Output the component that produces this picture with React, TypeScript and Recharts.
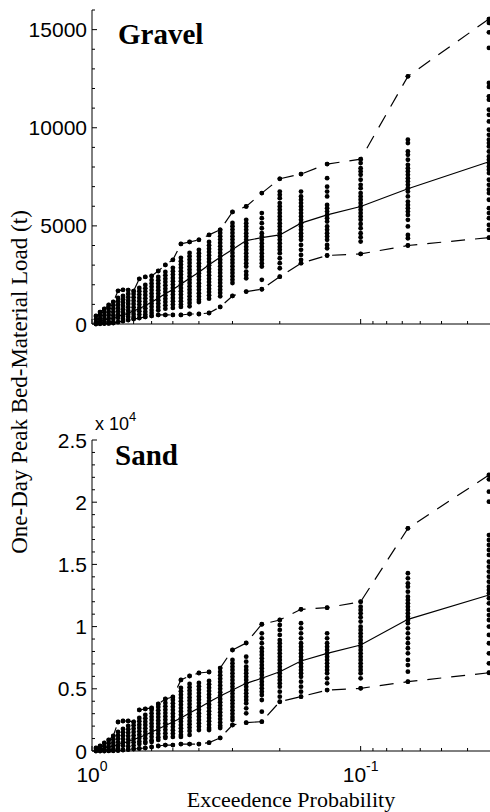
import React from "react";
import { ComposedChart, Scatter, Line, XAxis, YAxis } from "recharts";

// exceedence probability of each rank (m / (n + 1)), smallest first
const probs = [
  0.0333, 0.0667, 0.1, 0.1333, 0.1667, 0.2, 0.2333, 0.2667, 0.3, 0.3333,
  0.3667, 0.4, 0.4333, 0.4667, 0.5, 0.5333, 0.5667, 0.6, 0.6333, 0.6667,
  0.7, 0.7333, 0.7667, 0.8, 0.8333, 0.8667, 0.9, 0.9333, 0.9667,
];

// gravel: simulated one-day peak loads (t) per rank
const gravelCols: number[][] = [
  [15540, 15340, 14860, 14070, 12280, 12080, 11600, 11430, 10920, 10660, 10320, 9900, 9640, 9390, 9220, 9050, 8790, 8540, 8370, 8200, 8030, 7860, 7690, 7350, 7090, 6840, 6670, 6330, 5900, 5650, 5390, 5050, 4800, 4400],
  [12620, 9390, 9220, 8790, 8620, 8370, 8110, 7940, 7770, 7600, 7430, 7260, 7090, 6920, 6750, 6500, 6240, 6070, 5900, 5730, 5560, 5310, 4970, 4540, 4370, 4000],
  [8400, 8200, 7940, 7770, 7600, 7350, 7090, 6920, 6670, 6500, 6330, 6160, 5990, 5820, 5650, 5480, 5310, 5100, 4880, 4630, 4420, 4200, 3570],
  [8150, 7430, 7000, 6750, 6500, 6070, 5900, 5730, 5560, 5390, 5220, 4970, 4800, 4630, 4460, 4290, 4030, 3860, 3490],
  [7640, 6750, 6500, 6330, 6160, 5990, 5820, 5650, 5480, 5310, 5140, 4970, 4800, 4630, 4460, 4290, 4030, 3780, 3520, 3270, 3100],
  [7400, 6750, 6580, 6410, 6160, 5990, 5820, 5650, 5480, 5310, 5140, 4970, 4800, 4630, 4460, 4290, 4120, 3940, 3780, 3610, 3350, 3100, 2840, 2410],
  [6670, 5650, 5390, 5140, 4880, 4630, 4460, 4290, 4120, 3940, 3780, 3610, 3430, 3270, 3100, 2930, 2250, 1770],
  [5990, 5310, 5140, 4970, 4800, 4630, 4460, 4290, 4120, 3940, 3780, 3610, 3430, 3270, 3100, 2930, 2670, 2500, 2330, 1650],
  [5710, 5150, 4980, 4810, 4640, 4470, 4300, 4130, 3960, 3790, 3620, 3450, 3280, 3110, 2940, 2770, 2600, 2430, 2260, 2090, 1430],
  [4800, 4640, 4470, 4300, 4130, 3960, 3790, 3620, 3450, 3280, 3110, 2940, 2770, 2600, 2430, 2260, 2090, 1920, 1750, 1580, 1410, 870],
  [4540, 4180, 4010, 3840, 3670, 3500, 3330, 3160, 2990, 2820, 2650, 2480, 2310, 2140, 1970, 1800, 1630, 1460, 1290, 560],
  [4290, 3780, 3610, 3440, 3270, 3100, 2930, 2760, 2590, 2420, 2250, 2080, 1910, 1740, 1570, 1400, 1230, 1120, 510],
  [4180, 3620, 3450, 3280, 3110, 2940, 2770, 2600, 2430, 2260, 2090, 1920, 1750, 1580, 1410, 1240, 1070, 900, 510],
  [4080, 3370, 3200, 3030, 2860, 2690, 2520, 2350, 2180, 2010, 1840, 1670, 1500, 1330, 1160, 990, 870, 460],
  [3270, 2860, 2690, 2520, 2350, 2180, 2010, 1840, 1670, 1500, 1330, 1160, 990, 820, 460],
  [3010, 2650, 2480, 2310, 2140, 1970, 1800, 1630, 1460, 1290, 1120, 950, 780, 460],
  [2700, 2400, 2230, 2060, 1890, 1720, 1550, 1380, 1210, 1040, 870, 700, 460],
  [2450, 2240, 2070, 1900, 1730, 1560, 1390, 1220, 1050, 880, 710, 560, 410],
  [2400, 1990, 1820, 1650, 1480, 1310, 1140, 970, 800, 630, 480, 360],
  [2300, 1840, 1670, 1500, 1330, 1160, 990, 820, 650, 480, 300],
  [1680, 1530, 1360, 1190, 1020, 850, 680, 510, 360, 250],
  [1730, 1530, 1360, 1190, 1020, 850, 680, 510, 360, 200],
  [1740, 1430, 1260, 1090, 920, 750, 580, 410, 260, 150],
  [1690, 1330, 1160, 990, 820, 650, 480, 310, 100],
  [1120, 950, 780, 610, 440, 270, 100, 50],
  [970, 800, 630, 460, 290, 130, 30],
  [765, 600, 430, 260, 100, 20],
  [610, 440, 270, 110, 10],
  [410, 240, 80, 0],
];
const gravelMedian = [8265, 6890, 5985, 5560, 5140, 4540, 4400, 4250, 3800, 3400, 3020, 2640, 2330, 2030, 1760, 1540, 1320, 1110, 940, 780, 670, 545, 465, 385, 310, 255, 205, 150, 100];

// sand
const sandCols: number[][] = [
  [22190, 21840, 20850, 20040, 17360, 16960, 16560, 16160, 15760, 15220, 14820, 14420, 14010, 13610, 13210, 12950, 12680, 12280, 11870, 11340, 10930, 10530, 10000, 9330, 8660, 7850, 7050, 6290],
  [17900, 14290, 13880, 13480, 13210, 12810, 12400, 12140, 11870, 11600, 11340, 11070, 10800, 10530, 10270, 9860, 9460, 9060, 8660, 8260, 7850, 7320, 6910, 6380, 5570],
  [12000, 11600, 11340, 11070, 10750, 10400, 9990, 9730, 9460, 9190, 8920, 8660, 8390, 8120, 7850, 7580, 7320, 7050, 6780, 6510, 6250, 5840, 5040],
  [11520, 9460, 9060, 8660, 8390, 8120, 7850, 7580, 7320, 7050, 6780, 6510, 6250, 5840, 5440, 4900],
  [11390, 10270, 9860, 9460, 9060, 8660, 8390, 8120, 7850, 7580, 7320, 7050, 6780, 6510, 6250, 5970, 5570, 5170, 4770, 4370],
  [10530, 10130, 9730, 9330, 8920, 8660, 8390, 8120, 7850, 7580, 7320, 7050, 6780, 6510, 6250, 5970, 5710, 5440, 5170, 4770, 4370, 3960],
  [10190, 9460, 9060, 8660, 8260, 7980, 7720, 7450, 7180, 6910, 6650, 6380, 6110, 5840, 5570, 5310, 5040, 4770, 4500, 4100, 3160, 2360],
  [8680, 7580, 7180, 6780, 6510, 6250, 5970, 5710, 5440, 5170, 4900, 4640, 4370, 4100, 3840, 3430, 3030, 2280],
  [8120, 7320, 7050, 6780, 6510, 6240, 5970, 5700, 5430, 5160, 4890, 4620, 4350, 4080, 3810, 3540, 3270, 3000, 2730, 2490, 2090],
  [6670, 6350, 6080, 5810, 5540, 5270, 5000, 4730, 4460, 4190, 3920, 3650, 3380, 3110, 2840, 2570, 2300, 2030, 1850, 1050],
  [6350, 5630, 5360, 5090, 4820, 4550, 4280, 4010, 3740, 3470, 3200, 2930, 2660, 2390, 2120, 1850, 1690, 670],
  [6270, 5470, 5200, 4930, 4660, 4390, 4120, 3850, 3580, 3310, 3040, 2770, 2500, 2230, 1960, 1690, 560],
  [6030, 5390, 5120, 4850, 4580, 4310, 4040, 3770, 3500, 3230, 2960, 2690, 2420, 2150, 1880, 1610, 1290, 560],
  [5710, 5070, 4800, 4530, 4260, 3990, 3720, 3450, 3180, 2910, 2640, 2370, 2100, 1830, 1560, 1290, 1130, 560],
  [4340, 4100, 3830, 3560, 3290, 3020, 2750, 2480, 2210, 1940, 1670, 1400, 1130, 480],
  [4180, 3860, 3590, 3320, 3050, 2780, 2510, 2240, 1970, 1700, 1430, 1160, 1050, 480],
  [3780, 3540, 3270, 3000, 2730, 2460, 2190, 1920, 1650, 1380, 1110, 890, 400],
  [3460, 3300, 3030, 2760, 2490, 2220, 1950, 1680, 1410, 1140, 870, 720, 320],
  [3380, 2900, 2630, 2360, 2090, 1820, 1550, 1280, 1010, 740, 640, 240],
  [3300, 2660, 2390, 2120, 1850, 1580, 1310, 1040, 770, 560, 200],
  [2330, 2060, 1790, 1520, 1250, 980, 710, 440, 160],
  [2410, 2010, 1740, 1470, 1200, 930, 660, 390, 120],
  [2410, 1770, 1500, 1230, 960, 690, 420, 80],
  [2330, 1530, 1260, 990, 720, 450, 200, 40],
  [1210, 940, 670, 400, 150, 20],
  [890, 620, 350, 120, 10],
  [650, 380, 130, 0],
  [400, 150, 0],
  [240, 60, 0],
];
const sandMedian = [12540, 10585, 8520, 7850, 7235, 6375, 5845, 5440, 4900, 4420, 3940, 3455, 3055, 2650, 2330, 2050, 1770, 1525, 1285, 1085, 925, 765, 645, 520, 400, 320, 240, 160, 80];

const xTicks = [1, 0.9, 0.8, 0.7, 0.6, 0.5, 0.4, 0.3, 0.2, 0.1, 0.09, 0.08, 0.07, 0.06, 0.05, 0.04];
const gravelTicks = [0, 1000, 2000, 3000, 4000, 5000, 6000, 7000, 8000, 9000, 10000, 11000, 12000, 13000, 14000, 15000, 16000];
const sandTicks = [0, 1000, 2000, 3000, 4000, 5000, 6000, 7000, 8000, 9000, 10000, 11000, 12000, 13000, 14000, 15000, 16000, 17000, 18000, 19000, 20000, 21000, 22000, 23000, 24000, 25000];

const SANS = "'Liberation Sans', Arial, Helvetica, sans-serif";
const SERIF = "'Liberation Serif', 'Times New Roman', Times, serif";

const toPoints = (cols: number[][]) =>
  cols.flatMap((col, i) => col.map((v) => ({ p: probs[i], v })));
const upper = (cols: number[][]) => cols.map((col, i) => ({ p: probs[i], v: Math.max(...col) }));
const lower = (cols: number[][]) => cols.map((col, i) => ({ p: probs[i], v: Math.min(...col) }));
const line = (vals: number[]) => vals.map((v, i) => ({ p: probs[i], v }));

const dotShape = (props: any) => <circle cx={props.cx} cy={props.cy} r={2.4} fill="#000" />;

function XTick(props: any) {
  const { x, y, payload, showLabels } = props;
  const v = payload.value;
  const major = v === 1 || v === 0.1;
  return (
    <g>
      <line x1={x} x2={x} y1={y} y2={y - (major ? 5 : 3)} stroke="#000" strokeWidth={1} />
      {showLabels && major && (
        <text x={x} y={y + 31} textAnchor="middle" fontFamily={SANS} fontSize={21} fill="#000">
          10
          <tspan dy={-11} fontSize={14}>
            {v === 1 ? "0" : "-1"}
          </tspan>
        </text>
      )}
    </g>
  );
}

function YTick(props: any) {
  const { x, y, payload, fmt } = props;
  const v = payload.value;
  const major = v % 5000 === 0;
  return (
    <g>
      <line x1={x} x2={x + (major ? 5 : 3)} y1={y} y2={y} stroke="#000" strokeWidth={1} />
      {major && (
        <text x={x - 5} y={y + 7.5} textAnchor="end" fontFamily={SANS} fontSize={21} fill="#000">
          {fmt(v)}
        </text>
      )}
    </g>
  );
}

type PanelProps = {
  cols: number[][];
  median: number[];
  yMax: number;
  yTicks: number[];
  fmt: (v: number) => string;
  showXLabels: boolean;
  height: number;
  margin: { top: number; right: number; bottom: number; left: number };
};

function Panel({ cols, median, yMax, yTicks, fmt, showXLabels, height, margin }: PanelProps) {
  return (
    <ComposedChart width={490} height={height} margin={margin}>
      <XAxis
        dataKey="p"
        type="number"
        scale="log"
        domain={[0.033, 1]}
        reversed
        ticks={xTicks}
        interval={0}
        height={1}
        tickSize={0}
        tickMargin={0}
        axisLine={{ stroke: "#000", strokeWidth: 1 }}
        tick={(p: any) => <XTick {...p} showLabels={showXLabels} />}
      />
      <YAxis
        dataKey="v"
        type="number"
        domain={[0, yMax]}
        ticks={yTicks}
        interval={0}
        width={1}
        tickSize={0}
        tickMargin={0}
        axisLine={{ stroke: "#000", strokeWidth: 1 }}
        tick={(p: any) => <YTick {...p} fmt={fmt} />}
      />
      <Scatter data={toPoints(cols)} dataKey="v" shape={dotShape} isAnimationActive={false} />
      <Line
        data={upper(cols)}
        dataKey="v"
        type="linear"
        stroke="#000"
        strokeWidth={1.2}
        strokeDasharray="14 10"
        dot={{ r: 2.2, fill: "#000", stroke: "none" }}
        isAnimationActive={false}
      />
      <Line
        data={lower(cols)}
        dataKey="v"
        type="linear"
        stroke="#000"
        strokeWidth={1.2}
        strokeDasharray="14 10"
        dot={{ r: 2.2, fill: "#000", stroke: "none" }}
        isAnimationActive={false}
      />
      <Line
        data={line(median)}
        dataKey="v"
        type="linear"
        stroke="#000"
        strokeWidth={1.2}
        dot={false}
        isAnimationActive={false}
      />
    </ComposedChart>
  );
}

export default function App() {
  return (
    <div
      style={{
        position: "absolute",
        left: 0,
        top: 0,
        width: 490,
        height: 812,
        overflow: "hidden",
        background: "#fff",
      }}
    >
      <div style={{ position: "absolute", left: 0, top: 0 }}>
        <Panel
          cols={gravelCols}
          median={gravelMedian}
          yMax={16000}
          yTicks={gravelTicks}
          fmt={(v) => String(v)}
          showXLabels={false}
          height={340}
          margin={{ top: 10, right: 0, bottom: 15, left: 91 }}
        />
      </div>
      <div style={{ position: "absolute", left: 0, top: 400 }}>
        <Panel
          cols={sandCols}
          median={sandMedian}
          yMax={25000}
          yTicks={sandTicks}
          fmt={(v) => String(v / 10000)}
          showXLabels={true}
          height={412}
          margin={{ top: 40, right: 0, bottom: 60, left: 91 }}
        />
      </div>
      <svg
        width={490}
        height={812}
        style={{ position: "absolute", left: 0, top: 0, pointerEvents: "none" }}
      >
        <text x={118} y={44} fontFamily={SERIF} fontWeight="bold" fontSize={29} fill="#000">
          Gravel
        </text>
        <text x={115} y={465} fontFamily={SERIF} fontWeight="bold" fontSize={29} fill="#000">
          Sand
        </text>
        <text x={95} y={430} fontFamily={SANS} fontSize={18} fill="#000">
          x 10
          <tspan dy={-9} fontSize={13}>
            4
          </tspan>
        </text>
        <text
          x={0}
          y={0}
          transform="translate(27 382) rotate(-90)"
          textAnchor="middle"
          fontFamily={SERIF}
          fontSize={23}
          fill="#000"
        >
          One-Day Peak Bed-Material Load (t)
        </text>
        <text x={291} y={807} textAnchor="middle" fontFamily={SERIF} fontSize={22} fill="#000">
          Exceedence Probability
        </text>
      </svg>
    </div>
  );
}
